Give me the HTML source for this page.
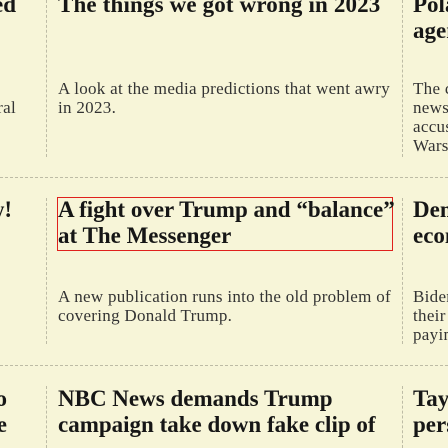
<!DOCTYPE html>
<html><head><meta charset="utf-8">
<style>
html,body{margin:0;padding:0;width:448px;height:448px;overflow:hidden;background:#f7f5d8;}
body{position:relative;font-family:"Liberation Serif",serif;}
.t{position:absolute;white-space:nowrap;font-family:"Liberation Serif",serif;}
.h{font-weight:bold;font-size:23px;color:#161616;letter-spacing:0;}
.d{font-size:17px;color:#333;letter-spacing:0.3px;}
.vl{position:absolute;width:0;border-left:1px dashed #bdbba5;}
.hl{position:absolute;height:0;left:0;width:448px;border-top:1px dashed #bdbba5;}
</style></head><body>
<div class="vl" style="left:46px;top:0;height:157px"></div>
<div class="vl" style="left:402px;top:0;height:157px"></div>
<div class="hl" style="top:177px"></div>
<div class="vl" style="left:46px;top:198px;height:146px"></div>
<div class="vl" style="left:402px;top:198px;height:146px"></div>
<div class="hl" style="top:365px"></div>
<div class="vl" style="left:46px;top:386px;height:62px"></div>
<div class="vl" style="left:402px;top:386px;height:62px"></div>

<!-- left column fragments -->
<div class="t h" style="right:432px;top:-8px">Rejected</div>
<div class="t d" style="right:432px;top:98px">federal</div>
<div class="t h" style="right:436px;top:197px">Wow!</div>
<div class="t h" style="right:441px;top:386px">to</div>
<div class="t h" style="right:441px;top:412px">one</div>

<!-- middle column -->
<div class="t h" style="left:58px;top:-8px;letter-spacing:0.15px">The things we got wrong in 2023</div>
<div class="t d" style="left:58px;top:79px">A look at the media predictions that went awry</div>
<div class="t d" style="left:58px;top:98px">in 2023.</div>

<div style="position:absolute;left:57px;top:197px;width:334px;height:52px;border:1px solid #e0201c"></div>
<div class="t h" style="left:58px;top:197px">A fight over Trump and “balance”</div>
<div class="t h" style="left:58px;top:223px">at The Messenger</div>
<div class="t d" style="left:58px;top:287px">A new publication runs into the old problem of</div>
<div class="t d" style="left:58px;top:306px">covering Donald Trump.</div>

<div class="t h" style="left:58px;top:386px">NBC News demands Trump</div>
<div class="t h" style="left:58px;top:412px">campaign take down fake clip of</div>

<!-- right column fragments -->
<div class="t h" style="left:413px;top:-8px">Poland</div>
<div class="t h" style="left:413px;top:18px">agency</div>
<div class="t d" style="left:413px;top:79px">The country's</div>
<div class="t d" style="left:413px;top:98px">news</div>
<div class="t d" style="left:413px;top:117px">accused</div>
<div class="t d" style="left:413px;top:136px">Warsaw</div>
<div class="t h" style="left:413px;top:197px">Democrats</div>
<div class="t h" style="left:413px;top:223px">economy</div>
<div class="t d" style="left:413px;top:287px">Biden's</div>
<div class="t d" style="left:413px;top:306px">their</div>
<div class="t d" style="left:413px;top:325px">paying</div>
<div class="t h" style="left:413px;top:386px">Taylor</div>
<div class="t h" style="left:413px;top:412px">person</div>
</body></html>
